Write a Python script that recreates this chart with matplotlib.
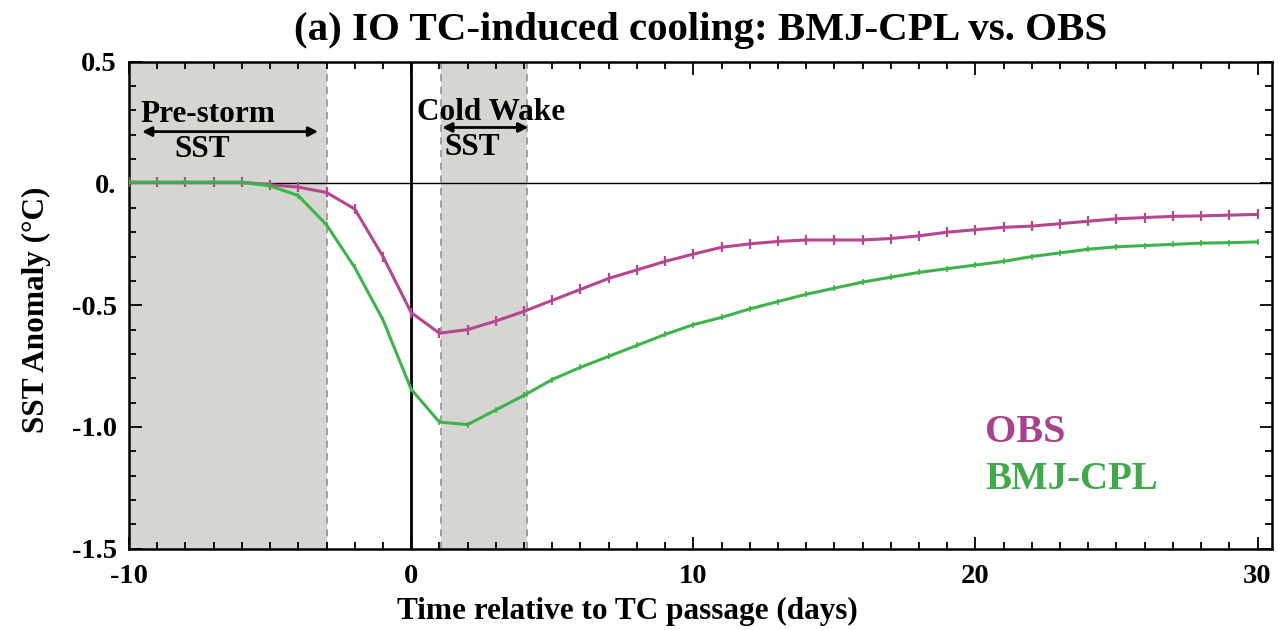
import matplotlib

matplotlib.use("Agg")
import matplotlib.pyplot as plt
from matplotlib.ticker import MultipleLocator, FixedFormatter, FixedLocator

plt.rcParams["font.family"] = ["Liberation Serif", "DejaVu Serif"]
plt.rcParams["font.weight"] = "bold"
plt.rcParams["axes.titleweight"] = "bold"
plt.rcParams["axes.labelweight"] = "bold"
plt.rcParams["axes.unicode_minus"] = False

# Composite SST anomaly (degC), one value per day relative to TC passage
days = list(range(-10, 31))
obs = [0.005, 0.005, 0.005, 0.005, 0.005, -0.005, -0.015, -0.037, -0.105, -0.30,
       -0.53, -0.615, -0.60, -0.565, -0.525, -0.48, -0.435, -0.39, -0.355, -0.32,
       -0.29, -0.262, -0.248, -0.238, -0.232, -0.232, -0.232, -0.226, -0.215, -0.20,
       -0.19, -0.18, -0.175, -0.165, -0.155, -0.145, -0.14, -0.135, -0.133, -0.13,
       -0.127]
bmj_cpl = [0.005, 0.005, 0.005, 0.005, 0.005, -0.01, -0.05, -0.17, -0.345, -0.56,
           -0.845, -0.98, -0.99, -0.93, -0.87, -0.805, -0.755, -0.71, -0.665, -0.62,
           -0.58, -0.55, -0.515, -0.485, -0.455, -0.43, -0.405, -0.385, -0.365, -0.35,
           -0.335, -0.32, -0.30, -0.285, -0.27, -0.26, -0.255, -0.25, -0.245, -0.243,
           -0.24]

prestorm_window = (-10, -3)
coldwake_window = (1.05, 4.1)

y_ticks = [0.5, 0.0, -0.5, -1.0, -1.5]
y_ticklabels = ["0.5", "0.", "-0.5", "-1.0", "-1.5"]
x_ticks = [-10, 0, 10, 20, 30]

OBS_COLOR = "#b5468f"
CPL_COLOR = "#3fb34b"
SHADE = "#d5d5d1"

fig = plt.figure(figsize=(12.78, 6.30), dpi=100)
ax = fig.add_axes([0.101, 0.129, 0.894, 0.773])

# shaded averaging windows with dashed edges
for lo, hi in (prestorm_window, coldwake_window):
    ax.axvspan(lo, hi, color=SHADE, lw=0, zorder=0)
    for edge in (lo, hi):
        if edge > -10:
            ax.axvline(edge, color="#9a9a9a", lw=1.3, ls=(0, (4, 3)), zorder=1)

ax.axhline(0, color="black", lw=1.0, zorder=2)
ax.axvline(0, color="black", lw=2.0, zorder=2)

ax.plot(days, obs, color=OBS_COLOR, lw=2.2, marker="|", ms=7, mew=1.6, zorder=3)
ax.plot(days, bmj_cpl, color=CPL_COLOR, lw=2.2, marker="|", ms=4, mew=1.2, zorder=3)

ax.set_xlim(-10, 30.5)
ax.set_ylim(-1.5, 0.5)
ax.xaxis.set_major_locator(FixedLocator(x_ticks))
ax.xaxis.set_minor_locator(MultipleLocator(1))
ax.yaxis.set_major_locator(FixedLocator(y_ticks))
ax.yaxis.set_major_formatter(FixedFormatter(y_ticklabels))
ax.yaxis.set_minor_locator(MultipleLocator(0.1))
ax.tick_params(which="both", direction="in", top=True, right=True, width=1.3)
ax.tick_params(which="major", length=9, labelsize=20.5)
ax.tick_params(axis="x", which="major", pad=11)
ax.tick_params(axis="y", which="major", pad=9)
ax.tick_params(which="minor", length=5)
for spine in ax.spines.values():
    spine.set_linewidth(1.8)

# window annotations
arrow = dict(arrowstyle="<|-|>", color="black", lw=2, mutation_scale=14,
             shrinkA=0, shrinkB=0)
note = dict(ha="center", va="baseline", fontsize=22.5)
ax.annotate("", xy=(-9.54, 0.213), xytext=(-3.3, 0.213), arrowprops=arrow)
ax.text(-7.2, 0.254, "Pre-storm", **note)
ax.text(-7.4, 0.107, "SST", **note)
ax.annotate("", xy=(1.1, 0.23), xytext=(4.15, 0.23), arrowprops=arrow)
ax.text(2.84, 0.262, "Cold Wake", **note)
ax.text(2.15, 0.119, "SST", **note)

ax.text(20.35, -1.06, "OBS", color="#a8438a", fontsize=29, va="baseline")
ax.text(20.35, -1.254, "BMJ-CPL", color="#41a94c", fontsize=28, va="baseline")

ax.set_title("(a) IO TC-induced cooling: BMJ-CPL vs. OBS", fontsize=29.5, pad=16)
ax.set_xlabel("Time relative to TC passage (days)", fontsize=22.5)
ax.xaxis.set_label_coords(0.436, -0.098)
ax.set_ylabel("SST Anomaly (°C)", fontsize=22.5)
ax.yaxis.set_label_coords(-0.068, 0.49)

fig.savefig("out.png", dpi=100)
